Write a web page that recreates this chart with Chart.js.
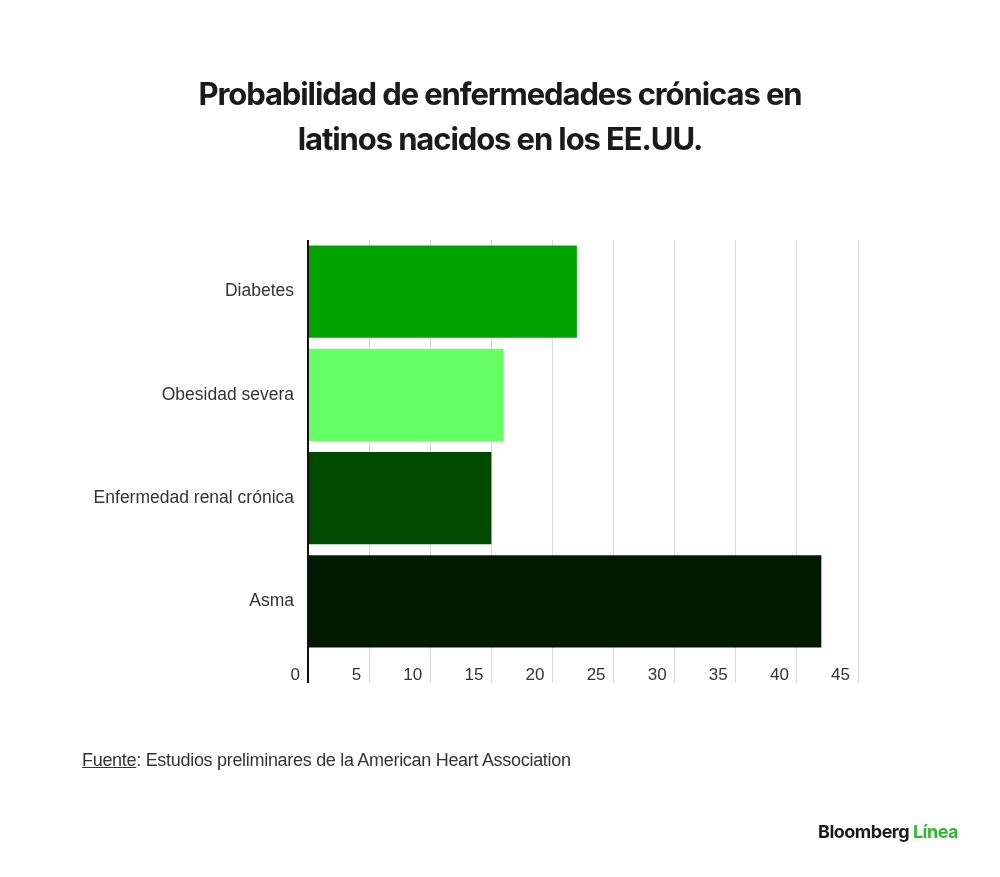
<!DOCTYPE html>
<html>
<head>
<meta charset="utf-8">
<script src="https://cdn.jsdelivr.net/npm/chart.js@4"></script>
<style>
  html, body { margin: 0; padding: 0; background: #fff; }
  #wrap { position: relative; width: 1000px; height: 877px; overflow: hidden; }
  #c { position: absolute; left: 0; top: 0; }
  #title { position: absolute; left: 0; top: 71px; width: 1000px; text-align: center;
    font-family: Inter, "Liberation Sans", sans-serif; font-weight: 700; font-size: 31px;
    line-height: 45px; letter-spacing: -1.1px; color: #1a1a1a; }
  #source { position: absolute; left: 82px; top: 750px; font-family: "Liberation Sans", Arial, sans-serif;
    font-size: 18px; color: #333; letter-spacing: -0.3px; }
  #source u { text-decoration: underline; }
  #logo { position: absolute; left: 818px; top: 821px; font-family: Inter, "Liberation Sans", sans-serif;
    font-weight: 700; font-size: 18px; color: #1a1a1a; letter-spacing: -0.5px; }
  #logo span { color: #2eb82e; }
</style>
</head>
<body>
<div id="wrap">
  <canvas id="c" width="1000" height="877"></canvas>
  <div id="title">Probabilidad de enfermedades crónicas en<br>latinos nacidos en los EE.UU.</div>
  <div id="source"><u>Fuente</u>: Estudios preliminares de la American Heart Association</div>
  <div id="logo">Bloomberg <span>Línea</span></div>
</div>
<script>
const categories = ["Diabetes", "Obesidad severa", "Enfermedad renal crónica", "Asma"];
const values = [22, 16, 15, 42];
const barColors = ["#00a300", "#66ff66", "#004a00", "#011a01"];
const xTicks = [0, 5, 10, 15, 20, 25, 30, 35, 40, 45];

new Chart(document.getElementById("c"), {
  type: "bar",
  data: {
    labels: categories,
    datasets: [{
      data: values,
      backgroundColor: barColors,
      borderWidth: 0,
      barPercentage: 0.893,
      categoryPercentage: 1
    }]
  },
  options: {
    indexAxis: "y",
    responsive: false,
    animation: false,
    devicePixelRatio: 1,
    layout: { padding: { top: 240, right: 142, bottom: 0, left: 0 } },
    plugins: { legend: { display: false }, tooltip: { enabled: false }, title: { display: false } },
    scales: {
      x: {
        min: xTicks[0],
        max: xTicks[xTicks.length - 1],
        afterBuildTicks: (s) => { s.ticks = xTicks.map(v => ({ value: v })); },
        afterFit: (s) => { s.height = 877 - 653; },
        border: { display: false },
        grid: {
          color: (c) => c.index === 0 ? "#111111" : "#d9d9d9",
          lineWidth: (c) => c.index === 0 ? 2 : 1,
          tickLength: 30,
          drawTicks: true
        },
        ticks: {
          align: "end",
          labelOffset: -8,
          padding: -18,
          color: "#333333",
          font: { family: "'Liberation Sans', Arial, sans-serif", size: 17 },
          callback: (v) => v
        }
      },
      y: {
        afterFit: (s) => { s.width = 308; },
        border: { display: false },
        grid: { display: false },
        ticks: {
          padding: 6,
          color: "#333333",
          font: { family: "'Liberation Sans', Arial, sans-serif", size: 17.5 }
        }
      }
    }
  }
});
</script>
</body>
</html>
